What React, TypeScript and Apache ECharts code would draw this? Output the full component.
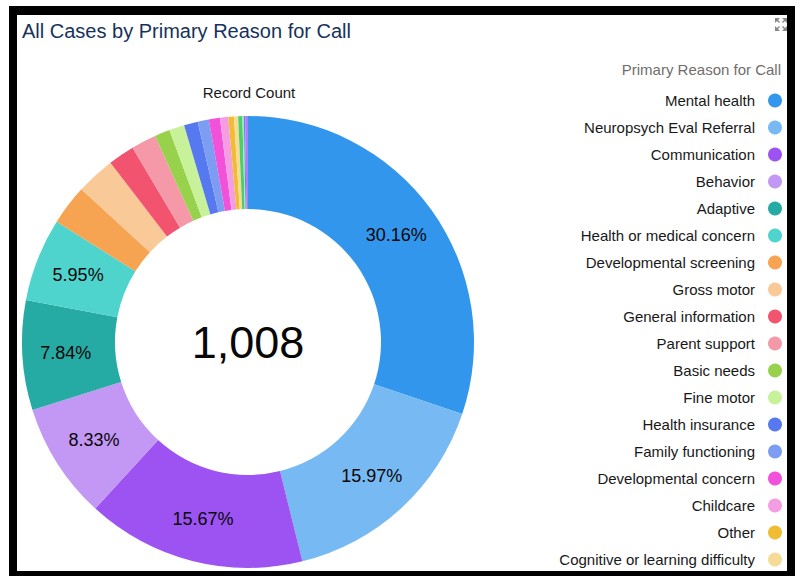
import React, { useEffect, useRef } from "react";
import * as echarts from "echarts";

const categories = [
  "Mental health",
  "Neuropsych Eval Referral",
  "Communication",
  "Behavior",
  "Adaptive",
  "Health or medical concern",
  "Developmental screening",
  "Gross motor",
  "General information",
  "Parent support",
  "Basic needs",
  "Fine motor",
  "Health insurance",
  "Family functioning",
  "Developmental concern",
  "Childcare",
  "Other",
  "Cognitive or learning difficulty",
  "Unlisted reason 1",
  "Unlisted reason 2",
  "Unlisted reason 3",
  "Unlisted reason 4",
];

const recordCounts = [304, 161, 158, 84, 79, 60, 29, 28, 19, 18, 11, 11, 10, 8, 8, 6, 4, 3, 3, 1, 1, 2];

const sliceColors = [
  "#3296ed",
  "#77b9f2",
  "#9d53f2",
  "#c398f5",
  "#26aba4",
  "#4ed4cd",
  "#f7a452",
  "#fac998",
  "#f25470",
  "#f598a8",
  "#98d24d",
  "#c8f299",
  "#5679f0",
  "#7d9df2",
  "#f251d9",
  "#f59de3",
  "#eebd33",
  "#f5db95",
  "#4dce69",
  "#9ee6c9",
  "#5f87f5",
  "#b07ef2",
];

const legendNames = categories.slice(0, 18);
const labelThreshold = 0.05;

export default function App() {
  const ref = useRef<HTMLDivElement>(null);

  useEffect(() => {
    if (!ref.current) return;
    const chart = echarts.init(ref.current, null, { renderer: "svg" });
    const total = recordCounts.reduce((a, b) => a + b, 0);
    const data = categories.map((name, i) => ({
      name,
      value: recordCounts[i],
      itemStyle: { color: sliceColors[i] },
      label: { show: recordCounts[i] / total >= labelThreshold },
    }));
    const font = "'Liberation Sans', Arial, Helvetica, sans-serif";
    chart.setOption({
      animation: false,
      textStyle: { fontFamily: font },
      title: [
        {
          text: "All Cases by Primary Reason for Call",
          left: 22,
          top: 21,
          padding: 0,
          textStyle: { fontSize: 20, fontWeight: "normal", color: "#16325c", fontFamily: font },
        },
        {
          text: "Record Count",
          left: 249,
          top: 85,
          padding: 0,
          textAlign: "center",
          textStyle: { fontSize: 15, fontWeight: "normal", color: "#181818", fontFamily: font },
        },
        {
          text: "Primary Reason for Call",
          right: 21,
          top: 62,
          padding: 0,
          textStyle: { fontSize: 15, fontWeight: "normal", color: "#706e6b", fontFamily: font },
        },
      ],
      legend: {
        type: "plain",
        orient: "vertical",
        right: 20,
        top: 93,
        bottom: 0,
        align: "right",
        icon: "circle",
        itemWidth: 14,
        itemHeight: 14,
        itemGap: 12,
        padding: 0,
        selectedMode: false,
        data: legendNames,
        textStyle: { fontSize: 15, color: "#181818", fontFamily: font, padding: [0, 8, 0, 0] },
      },
      graphic: [
        {
          type: "text",
          x: 248,
          y: 342,
          style: {
            text: total.toLocaleString("en-US"),
            fontSize: 45,
            fill: "#080707",
            fontFamily: font,
            textAlign: "center",
            textVerticalAlign: "middle",
          },
        },
        {
          type: "group",
          x: 775,
          y: 18,
          children: [
            { type: "polygon", shape: { points: [[0, 0], [5, 0], [0, 5]] }, style: { fill: "#8a8886" } },
            { type: "line", shape: { x1: 1, y1: 1, x2: 4.5, y2: 4.5 }, style: { stroke: "#8a8886", lineWidth: 1.5 } },
            { type: "polygon", shape: { points: [[12, 0], [7, 0], [12, 5]] }, style: { fill: "#8a8886" } },
            { type: "line", shape: { x1: 11, y1: 1, x2: 7.5, y2: 4.5 }, style: { stroke: "#8a8886", lineWidth: 1.5 } },
            { type: "polygon", shape: { points: [[0, 13], [5, 13], [0, 8]] }, style: { fill: "#8a8886" } },
            { type: "line", shape: { x1: 1, y1: 12, x2: 4.5, y2: 8.5 }, style: { stroke: "#8a8886", lineWidth: 1.5 } },
            { type: "polygon", shape: { points: [[12, 13], [7, 13], [12, 8]] }, style: { fill: "#8a8886" } },
            { type: "line", shape: { x1: 11, y1: 12, x2: 7.5, y2: 8.5 }, style: { stroke: "#8a8886", lineWidth: 1.5 } },
          ],
        },
      ],
      series: [
        {
          type: "pie",
          center: [248, 342],
          radius: [133, 226],
          startAngle: 90,
          clockwise: true,
          avoidLabelOverlap: false,
          emphasis: { disabled: true },
          itemStyle: { borderWidth: 0 },
          label: {
            show: true,
            position: "inside",
            formatter: "{d}%",
            fontSize: 18,
            color: "#080707",
            fontFamily: font,
          },
          labelLine: { show: false },
          data,
        },
      ],
    });
    return () => chart.dispose();
  }, []);

  const bar = (s: React.CSSProperties): React.CSSProperties => ({
    position: "absolute",
    background: "#000",
    pointerEvents: "none",
    ...s,
  });

  return (
    <div style={{ position: "absolute", left: 0, top: 0, width: 802, height: 576, background: "#fff", overflow: "hidden" }}>
      <div ref={ref} style={{ position: "absolute", left: 0, top: 0, width: 802, height: 576 }} />
      <div style={bar({ left: 9, top: 6, width: 786, height: 9 })} />
      <div style={bar({ left: 9, top: 6, width: 8, height: 570 })} />
      <div style={bar({ left: 787, top: 6, width: 8, height: 570 })} />
      <div style={bar({ left: 9, top: 571, width: 786, height: 5 })} />
    </div>
  );
}
